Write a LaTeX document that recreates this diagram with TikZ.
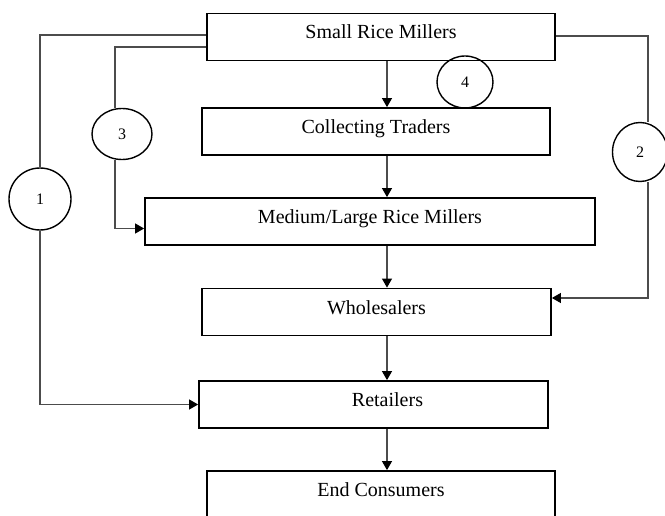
\documentclass[tikz,border=0pt]{standalone}
\usepackage{fontspec}
\setmainfont{Liberation Serif}
\usetikzlibrary{arrows.meta,shapes.geometric}

\begin{document}
\begin{tikzpicture}[x=1pt, y=-1pt, font=\fontsize{20}{24}\selectfont,
		box/.style={draw=black, line width=1.8pt, rectangle, inner sep=0pt, minimum height=47pt, text height=14pt, text depth=10pt},
		num/.style={draw=black, line width=1.4pt, ellipse, fill=white, inner sep=0pt, font=\fontsize{16}{19}\selectfont},
		flow/.style={draw=black!70, line width=1.2pt},
		tip/.style={-{Triangle[length=9pt,width=10pt,color=black]}}]
			%%%%% START %%%%%
			\useasboundingbox (0,0) rectangle (665,516);
			\clip (0,0) rectangle (665,516);
			\fill[white] (0,0) rectangle (665,516);
			
			\node[box, minimum width=348pt] (small) at (381, 37) {Small Rice Millers};
			\node[box, minimum width=348pt] (collect) at (376, 131.5) {Collecting Traders};
			\node[box, minimum width=450pt] (medium) at (370, 221.5) {Medium/Large Rice Millers};
			\node[box, minimum width=349pt] (whole) at (376.5, 312) {Wholesalers};
			\node[box, minimum width=349pt, label={[xshift=14pt, text height=14pt, text depth=10pt]center:Retailers}] (retail) at (373.5, 404.5) {};
			\node[box, minimum width=348pt] (endc) at (381, 494.5) {End Consumers};
			
			\node[num, minimum width=62pt, minimum height=62pt] (c1) at (40, 199) {1};
			\node[num, minimum width=55pt, minimum height=59pt] (c2) at (640, 152) {2};
			\node[num, minimum width=60pt, minimum height=51pt] (c3) at (122, 134) {3};
			\node[num, fill=none, minimum width=56pt, minimum height=52pt] (c4) at (465, 82) {4};
			
			% main chain
			\coordinate (trunk) at (387, 0);
			\draw[flow, tip] (small.south -| trunk) -- (collect.north -| trunk);
			\draw[flow, tip] (collect.south -| trunk) -- (medium.north -| trunk);
			\draw[flow, tip] (medium.south -| trunk) -- (whole.north -| trunk);
			\draw[flow, tip] (whole.south -| trunk) -- (retail.north -| trunk);
			\draw[flow, tip] (retail.south -| trunk) -- (endc.north -| trunk);
			
			% channel 1
			\draw[flow] ([yshift=2pt]small.west) -| (c1.north);
			\draw[flow, tip] (c1.south) |- (retail.west);
			
			% channel 2
			\draw[flow] ([yshift=1pt]small.east) -| ([xshift=8pt]c2.north);
			\draw[flow, tip] ([xshift=8pt]c2.south) |- ([yshift=14pt]whole.east);
			
			% channel 3
			\draw[flow] ([yshift=-10pt]small.west) -| ([xshift=-7pt]c3.north);
			\draw[flow, tip] ([xshift=-7pt]c3.south) |- ([yshift=-7pt]medium.west);
			%%%%% END %%%%%
\end{tikzpicture}
\end{document}
